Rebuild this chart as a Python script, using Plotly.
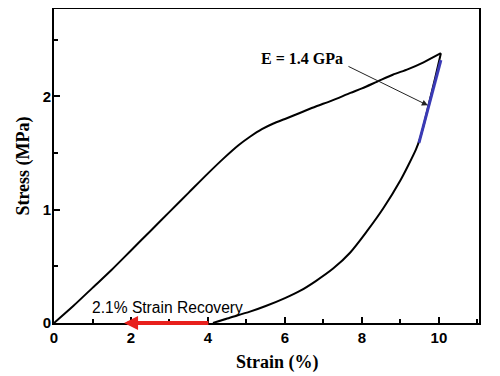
import plotly.graph_objects as go

# Loading branch (strain %, stress MPa)
load_strain = [0, 0.5, 1.0, 1.5, 2.0, 2.5, 3.0, 3.5, 4.0, 4.4, 4.8, 5.1, 5.4, 5.7,
               6.0, 6.4, 6.8, 7.2, 7.7, 8.0, 8.4, 8.8, 9.2, 9.6, 10.05]
load_stress = [0, 0.15, 0.31, 0.47, 0.64, 0.81, 0.98, 1.15, 1.32, 1.45, 1.57, 1.645, 1.71, 1.76,
               1.80, 1.855, 1.91, 1.96, 2.03, 2.07, 2.13, 2.19, 2.24, 2.30, 2.38]

# Unloading branch
unload_strain = [10.05, 9.9, 9.75, 9.6, 9.5, 9.4, 9.2, 9.0, 8.55, 8.13, 7.69, 7.25, 6.8, 6.4,
                 6.0, 5.5, 5.09, 4.5, 4.13]
unload_stress = [2.38, 2.16, 1.95, 1.74, 1.62, 1.53, 1.39, 1.26, 1.01, 0.81, 0.62, 0.48, 0.37, 0.285,
                 0.22, 0.15, 0.10, 0.04, 0.0]

# Modulus fit line (blue)
fit_strain = [9.48, 10.05]
fit_stress = [1.59, 2.32]

# Strain recovery arrow
recovery_start = 4.05
recovery_end = 1.82

fig = go.Figure()
fig.add_trace(go.Scatter(x=load_strain, y=load_stress, mode="lines",
                         line=dict(color="black", width=2, shape="spline", smoothing=0.8),
                         showlegend=False))
fig.add_trace(go.Scatter(x=unload_strain, y=unload_stress, mode="lines",
                         line=dict(color="black", width=2, shape="spline", smoothing=0.8),
                         showlegend=False))
fig.add_trace(go.Scatter(x=fit_strain, y=fit_stress, mode="lines",
                         line=dict(color="#3a3ab5", width=3), showlegend=False))

fig.add_annotation(x=recovery_end, y=0, ax=recovery_start, ay=0, axref="x", ayref="y",
                   xref="x", yref="y", text="", showarrow=True, arrowhead=2, arrowsize=0.7,
                   arrowwidth=4, arrowcolor="#e8201c")
fig.add_annotation(x=2.94, y=0.14, text="2.1% Strain Recovery", showarrow=False,
                   font=dict(family="Liberation Sans", size=15.6, color="black"))
fig.add_annotation(x=9.71, y=1.92, ax=7.61, ay=2.27, axref="x", ayref="y",
                   xref="x", yref="y", text="", showarrow=True, arrowhead=2, arrowsize=1.2,
                   arrowwidth=1, arrowcolor="#222222")
fig.add_annotation(x=6.44, y=2.33, text="E = 1.4 GPa", showarrow=False,
                   font=dict(family="Liberation Serif", size=16, color="black", weight="bold"))
# x-axis title (placed slightly right of centre, as in the original)
fig.add_annotation(x=0.527, y=-0.127, xref="paper", yref="paper", text="Strain (%)",
                   showarrow=False, xanchor="center", yanchor="middle",
                   font=dict(family="Liberation Serif", size=18, color="black", weight="bold"))

axis_common = dict(showline=True, mirror=True, linecolor="black", linewidth=2,
                   ticks="inside", ticklen=6, tickwidth=2, tickcolor="black",
                   showgrid=False, zeroline=False, automargin=False,
                   tickfont=dict(family="Liberation Sans", size=15, color="black", weight="bold"))

fig.update_xaxes(range=[0, 11.04], tick0=0, dtick=2,
                 minor=dict(dtick=1, ticks="inside", ticklen=4, tickwidth=2, tickcolor="black"),
                 **axis_common)
fig.update_yaxes(range=[0, 2.77], tick0=0, dtick=1, ticklabelstandoff=-2,
                 minor=dict(dtick=0.5, ticks="inside", ticklen=4, tickwidth=2, tickcolor="black"),
                 title=dict(text="Stress (MPa)", standoff=8,
                            font=dict(family="Liberation Serif", size=18, color="black", weight="bold")),
                 **axis_common)

# page body adds an 8px offset, so the figure is sized/margined to compensate
fig.update_layout(width=492, height=368, margin=dict(l=46, r=21, t=1, b=53),
                  plot_bgcolor="white", paper_bgcolor="white", showlegend=False)
fig.write_html("out.html")
